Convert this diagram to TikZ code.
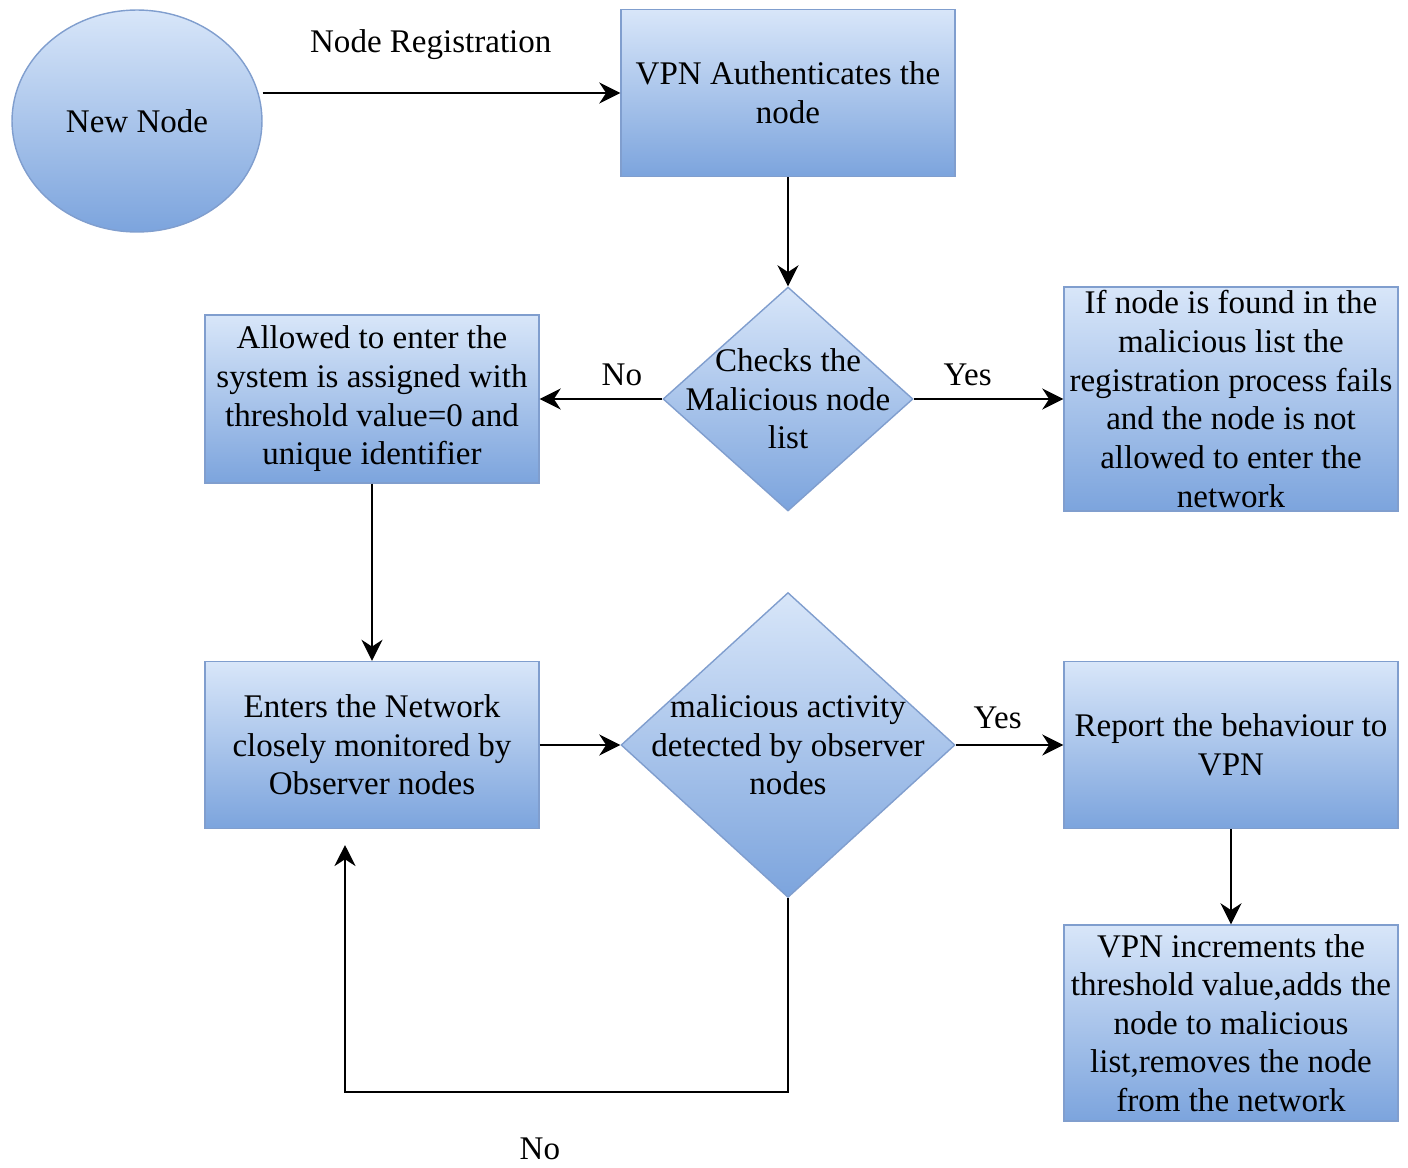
\documentclass[tikz,border=0pt]{standalone}
\usepackage{fontspec}
\setmainfont{Liberation Serif}
\usetikzlibrary{arrows.meta,positioning,shapes.geometric}

\definecolor{boxtop}{RGB}{216,230,249}
\definecolor{boxbot}{RGB}{124,164,221}
\definecolor{boxline}{RGB}{128,158,206}

\begin{document}
\begin{tikzpicture}[x=0.02cm, y=-0.02cm,
  fill box/.style={draw=boxline, line width=0.8pt, top color=boxtop, bottom color=boxbot},
  box/.style={fill box, minimum width=6.68cm, minimum height=#1, align=center,
              inner xsep=1pt, inner ysep=0pt, font=\fontsize{18.8}{22}\selectfont},
  dia/.style={fill box, diamond, inner sep=0pt},
  txt/.style={align=center, inner sep=0pt, font=\fontsize{18.8}{22}\selectfont},
  arr/.style={-{Stealth[length=12pt,width=12pt]}, line width=1.1pt, black},
  lbl/.style={font=\fontsize{18.8}{22}\selectfont, inner sep=0pt}
]
\useasboundingbox (0,0) rectangle (1408,1167);

%% ---- Registration ----
\node[fill box, ellipse, minimum width=5cm, minimum height=4.44cm,
      font=\fontsize{18.8}{22}\selectfont] (newnode) at (137,121) {New Node};
\node[box=3.34cm] (vpn) at (788,93) {VPN Authenticates the\\node};
\node[dia, minimum width=5cm, minimum height=4.48cm,
      label={[txt]center:Checks the\\Malicious node\\list}] (check) at (788,399) {};
\node[box=3.36cm] (allowed) at (372,399)
  {Allowed to enter the\\system is assigned with\\threshold value=0 and\\unique identifier};
\node[box=4.48cm] (reject) at (1231,399)
  {If node is found in the\\malicious list the\\registration process fails\\and the node is not\\allowed to enter the\\network};

%% ---- Monitoring ----
\node[box=3.34cm] (enter) at (372,745)
  {Enters the Network\\closely monitored by\\Observer nodes};
\node[dia, minimum width=6.68cm, minimum height=6.1cm,
      label={[txt]center:malicious activity\\detected by observer\\nodes}] (detect) at (788,745) {};
\node[box=3.34cm] (report) at (1231,745) {Report the behaviour to\\VPN};
\node[box=3.92cm] (remove) at (1231,1023)
  {VPN increments the\\threshold value,adds the\\node to malicious\\list,removes the node\\from the network};

%% arrows
\draw[arr] (newnode.east |- vpn.west) -- node[lbl, pos=0.47, above=18.6pt] {Node Registration} (vpn.west);
\draw[arr] (vpn.south) -- (check.north);
\draw[arr] (check.west) -- node[lbl, pos=0.33, above=6.8pt] {No} (allowed.east);
\draw[arr] (check.east) -- node[lbl, pos=0.36, above=6.8pt] {Yes} (reject.west);
\draw[arr] (allowed.south) -- (enter.north);
\draw[arr] (enter.east) -- (detect.west);
\draw[arr] (detect.east) -- node[lbl, pos=0.39, above=8.5pt] {Yes} (report.west);
\draw[arr] (report.south) -- (remove.north);

%% loop back
\coordinate (turn) at (345,1092);
\coordinate (back) at (345,845);
\draw[arr] (detect.south) |- node[lbl, pos=0.78, below=25.5pt] {No} (turn) -- (back);

\end{tikzpicture}
\end{document}
